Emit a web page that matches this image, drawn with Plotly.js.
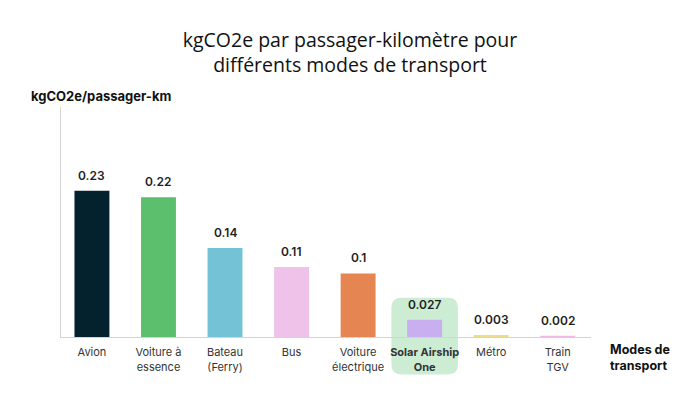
<!DOCTYPE html>
<html>
<head>
<meta charset="utf-8">
<script src="https://cdn.plot.ly/plotly-3.0.1.min.js"></script>
<style>html,body{margin:0;padding:0;background:#fff;}#chart{width:700px;height:420px;}</style>
</head>
<body>
<div id="chart"></div>
<script>
const categories = ["Avion", "Voiture à<br>essence", "Bateau<br>(Ferry)", "Bus", "Voiture<br>électrique", "<b>Solar Airship<br>One</b>", "Métro", "Train<br>TGV"];
const values = [0.23, 0.22, 0.14, 0.11, 0.1, 0.027, 0.003, 0.002];
const valueLabels = ["0.23", "0.22", "0.14", "0.11", "0.1", "0.027", "0.003", "0.002"];
const barColors = ["#04222e", "#5cbf6e", "#74c2d6", "#efc2ea", "#e48552", "#c9aef0", "#ecdc88", "#f0b6e6"];
const highlightIndex = 5;

const xs = categories.map((c, i) => i);

const trace = {
  type: "bar",
  x: xs,
  y: values,
  width: 0.525,
  marker: {color: barColors, line: {width: 0}},
  hoverinfo: "skip"
};

const annotations = values.map((v, i) => ({
  x: i, y: v, xref: "x", yref: "y",
  text: valueLabels[i], showarrow: false,
  yanchor: "bottom", yshift: 6,
  font: {family: "Inter, Open Sans, sans-serif", size: 12, color: "#1f1f1f", weight: 600}
}));

annotations.push({
  xref: "paper", yref: "paper", x: -0.0603, y: 1.048,
  xanchor: "left", yanchor: "middle", showarrow: false,
  text: "<b>kgCO2e/passager-km</b>",
  font: {family: "Inter, Open Sans, sans-serif", size: 13, color: "#111"}
});
annotations.push({
  xref: "paper", yref: "paper", x: 1.033, y: -0.09,
  xanchor: "left", yanchor: "middle", align: "left", showarrow: false,
  text: "<b>Modes de<br>transport</b>",
  font: {family: "Inter, Open Sans, sans-serif", size: 12.5, color: "#111"}
});

const rx = 0.15, ry = 0.043;
const x0 = highlightIndex - 0.5, x1 = highlightIndex + 0.5, y0 = -0.163, y1 = 0.171;
const path = `M ${x0 + rx} ${y1} L ${x1 - rx} ${y1} Q ${x1} ${y1} ${x1} ${y1 - ry} L ${x1} ${y0 + ry} Q ${x1} ${y0} ${x1 - rx} ${y0} L ${x0 + rx} ${y0} Q ${x0} ${y0} ${x0} ${y0 + ry} L ${x0} ${y1 - ry} Q ${x0} ${y1} ${x0 + rx} ${y1} Z`;

const layout = {
  width: 700, height: 420,
  margin: {l: 61, r: 108.5, t: 107, b: 82.5},
  paper_bgcolor: "#fff", plot_bgcolor: "#fff",
  title: {
    text: "kgCO2e par passager-kilomètre pour<br>différents modes de transport",
    x: 0.5, xanchor: "center", xref: "container", y: 0.888, yanchor: "top", yref: "container",
    font: {family: "Open Sans, sans-serif", size: 19.5, color: "#111"}
  },
  showlegend: false,
  xaxis: {
    range: [-0.465, 7.5],
    tickmode: "array", tickvals: xs, ticktext: categories,
    showline: true, linecolor: "#d4d4d4", linewidth: 1,
    showgrid: false, zeroline: false,
    ticks: "outside", ticklen: 5, tickcolor: "rgba(0,0,0,0)",
    tickfont: {family: "Inter, Open Sans, sans-serif", size: 11, color: "#333"},
    fixedrange: true
  },
  yaxis: {
    range: [0, 0.362],
    showline: true, linecolor: "#d4d4d4", linewidth: 1,
    showgrid: false, zeroline: false, showticklabels: false, ticks: "",
    fixedrange: true
  },
  shapes: [{
    type: "path", xref: "x", yref: "paper", path: path,
    fillcolor: "#cdecd4", line: {width: 0}, layer: "below"
  }],
  annotations: annotations,
  bargap: 0.475
};

Plotly.newPlot("chart", [trace], layout, {displayModeBar: false, staticPlot: true});
</script>
</body>
</html>
